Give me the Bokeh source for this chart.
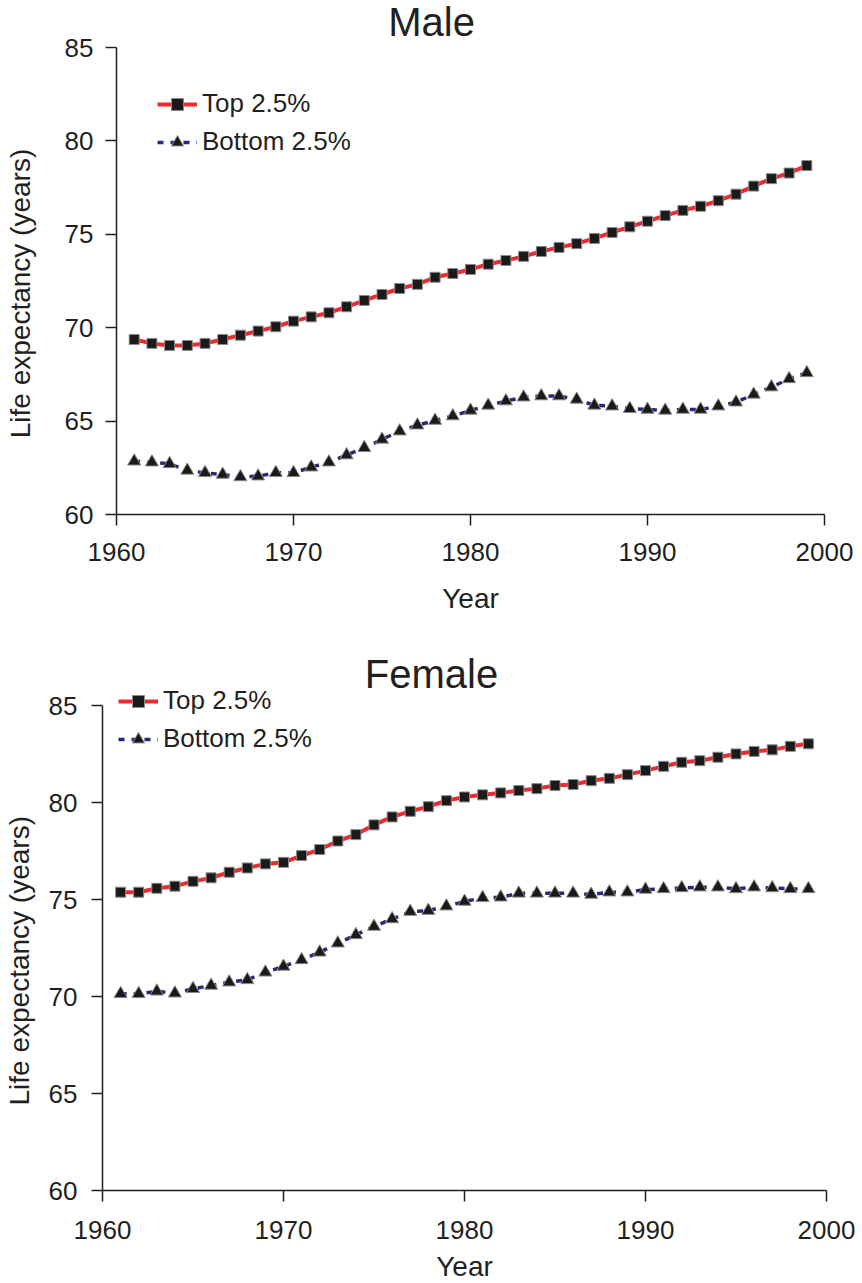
from bokeh.plotting import figure
from bokeh.models import Range1d, FixedTicker, Legend, LegendItem, Label
from bokeh.embed import file_html
from bokeh.resources import INLINE

years = list(range(1961, 2000))

male_top = [69.37, 69.16, 69.05, 69.05, 69.16, 69.37, 69.60, 69.82, 70.05, 70.35,
            70.58, 70.80, 71.12, 71.46, 71.78, 72.10, 72.32, 72.70, 72.90, 73.12,
            73.40, 73.60, 73.82, 74.08, 74.30, 74.50, 74.78, 75.10, 75.40, 75.70,
            76.00, 76.28, 76.50, 76.80, 77.15, 77.58, 77.98, 78.28, 78.68]
male_bottom = [62.85, 62.80, 62.71, 62.36, 62.23, 62.14, 62.01, 62.05, 62.23, 62.23,
               62.53, 62.80, 63.18, 63.57, 64.02, 64.46, 64.78, 65.03, 65.27, 65.57,
               65.84, 66.07, 66.28, 66.34, 66.34, 66.16, 65.84, 65.80, 65.66, 65.62,
               65.57, 65.62, 65.62, 65.80, 66.01, 66.43, 66.82, 67.26, 67.58]
female_top = [75.38, 75.38, 75.58, 75.69, 75.94, 76.12, 76.41, 76.63, 76.84, 76.92,
              77.27, 77.58, 78.02, 78.35, 78.85, 79.26, 79.55, 79.79, 80.10, 80.29,
              80.40, 80.50, 80.62, 80.72, 80.88, 80.93, 81.13, 81.25, 81.44, 81.65,
              81.87, 82.08, 82.16, 82.34, 82.51, 82.64, 82.72, 82.90, 83.03]
female_bottom = [70.14, 70.14, 70.27, 70.17, 70.40, 70.57, 70.74, 70.86, 71.25, 71.55,
                 71.89, 72.28, 72.75, 73.18, 73.61, 74.00, 74.38, 74.43, 74.66, 74.90,
                 75.09, 75.12, 75.32, 75.32, 75.32, 75.32, 75.26, 75.38, 75.38, 75.52,
                 75.55, 75.60, 75.64, 75.64, 75.55, 75.64, 75.60, 75.55, 75.55]

x_ticks = [1960, 1970, 1980, 1990, 2000]
y_ticks = [60, 65, 70, 75, 80, 85]
series_labels = ["Top 2.5%", "Bottom 2.5%"]
titles = ["Male", "Female"]
x_label = "Year"
y_label = "Life expectancy (years)"

FONT = "Liberation Sans"
TXT = "#231F20"
RED = "#EE2A2E"
NAVY = "#262A78"
NBSP = "\u00a0"


def make_panel(title, title_pos, top, bottom, height, y_end, mb_top, mb_bottom,
               mb_left, mb_right, ytick_standoff, ylab_standoff, xtick_standoff,
               xlab_standoff, legend_loc, ylab_pad):
    p = figure(width=862, height=height, output_backend="svg", toolbar_location=None,
               x_range=Range1d(1960, 2000), y_range=Range1d(60, y_end),
               min_border_top=mb_top, min_border_bottom=mb_bottom,
               min_border_left=mb_left, min_border_right=mb_right)
    p.outline_line_color = None
    p.xgrid.visible = False
    p.ygrid.visible = False
    p.background_fill_color = "white"
    p.border_fill_color = "white"

    for ax, ticks in ((p.xaxis[0], x_ticks), (p.yaxis[0], y_ticks)):
        ax.ticker = FixedTicker(ticks=ticks)
        ax.bounds = (ticks[0], ticks[-1])
        ax.axis_line_color = TXT
        ax.axis_line_width = 1.5
        ax.major_tick_line_color = TXT
        ax.major_tick_line_width = 1.5
        ax.major_tick_out = 11
        ax.major_tick_in = 0
        ax.minor_tick_line_color = None
        ax.major_label_text_font = FONT
        ax.major_label_text_font_size = "26px"
        ax.major_label_text_color = TXT
        ax.axis_label_text_font = FONT
        ax.axis_label_text_font_size = "28px"
        ax.axis_label_text_font_style = "normal"
        ax.axis_label_text_color = TXT
    p.xaxis[0].axis_label = x_label
    # trailing non-breaking spaces shift the visible label toward the plotted area's middle
    p.yaxis[0].axis_label = y_label + NBSP * ylab_pad
    p.xaxis[0].major_label_standoff = xtick_standoff
    p.xaxis[0].axis_label_standoff = xlab_standoff
    p.yaxis[0].major_label_standoff = ytick_standoff
    p.yaxis[0].axis_label_standoff = ylab_standoff

    l1 = p.line(years, top, line_color=RED, line_width=4)
    s1 = p.scatter(years, top, marker="square", size=10, fill_color="#1A1A1A",
                   line_color="#8A8A8A", line_width=1)
    l2 = p.line(years, bottom, line_color=NAVY, line_width=3.5, line_dash="6 7")
    s2 = p.scatter(years, bottom, marker="triangle", size=13, fill_color="#1A1A1A",
                   line_color="#8A8A8A", line_width=1)

    legend = Legend(items=[LegendItem(label=series_labels[0], renderers=[l1, s1]),
                           LegendItem(label=series_labels[1], renderers=[l2, s2])],
                    location=legend_loc, border_line_color=None,
                    background_fill_alpha=0, padding=0, margin=0, spacing=7,
                    glyph_width=40, glyph_height=30, label_standoff=5,
                    label_text_font=FONT, label_text_font_size="26px",
                    label_text_color=TXT, label_height=30)
    p.add_layout(legend, "center")

    p.add_layout(Label(x=title_pos[0], y=title_pos[1], text=title, text_align="center",
                       text_baseline="middle", text_font=FONT,
                       text_font_size="40px", text_color=TXT))
    return p


# Male panel: plotted area 116..824 x 47..514 (frame extends up to hold the title)
p_male = make_panel(titles[0], (1977.8, 86.38), male_top, male_bottom, 640, 87.41,
                    2, 126, 116, 38, 12, 26, 17, 19, (41, 357), 9)

# Female panel: plotted area 102..826 x 705..1190 (frame extends up for title/legend)
p_female = make_panel(titles[1], (1978.18, 86.62), female_top, female_bottom, 649, 88.1,
                      5, 99, 102, 36, 14, 11, 19, 9, (16, 436), 11)

open("out.html", "w").write(file_html([p_male, p_female], INLINE))
